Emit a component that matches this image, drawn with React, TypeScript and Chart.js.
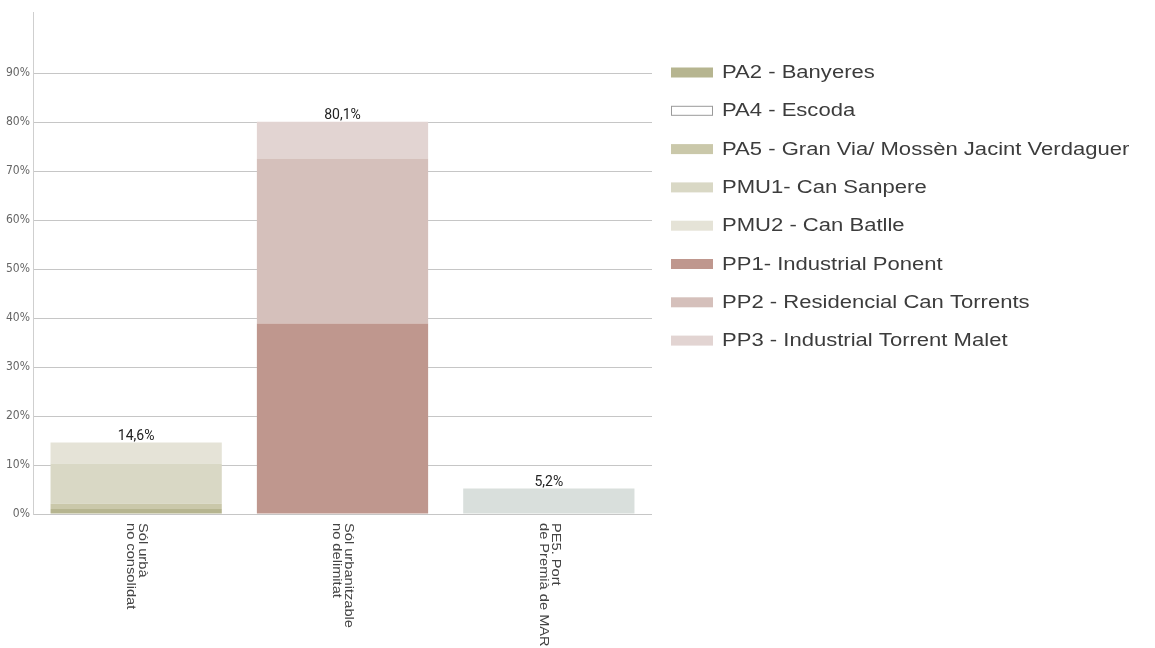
import React, { useEffect, useRef } from 'react';
import { Chart, registerables } from 'chart.js';

Chart.register(...registerables);

// ---- data ----
const categories: string[][] = [
  ['Sól urbà', 'no consolidat'],
  ['Sól urbanitzable', 'no delimitat'],
  ['PE5. Port', 'de Premià de MAR'],
];

const pa2Values = [1.0, 0, 0];
const pa4Values = [0, 0, 0];
const pa5Values = [1.1, 0, 0];
const pmu1Values = [8.2, 0, 0];
const pmu2Values = [4.3, 0, 0];
const pp1Values = [0, 38.9, 0];
const pp2Values = [0, 33.7, 0];
const pp3Values = [0, 7.5, 0];
const pe5Values = [0, 0, 5.2];

const seriesLabels = [
  'PA2 - Banyeres',
  'PA4 - Escoda',
  'PA5 - Gran Via/ Mossèn Jacint Verdaguer',
  'PMU1- Can Sanpere',
  'PMU2 - Can Batlle',
  'PP1- Industrial Ponent',
  'PP2 - Residencial Can Torrents',
  'PP3 - Industrial Torrent Malet',
  'PE5. Port de Premià de MAR',
];

const seriesColors = [
  '#b6b590',
  '#ffffff',
  '#cac8aa',
  '#d9d8c5',
  '#e5e3d7',
  '#bf978e',
  '#d5c0bb',
  '#e2d4d2',
  '#d9dfdc',
];

const yTickValues = [0, 10, 20, 30, 40, 50, 60, 70, 80, 90];
const yMax = 102.5;

const seriesValues = [
  pa2Values, pa4Values, pa5Values, pmu1Values, pmu2Values,
  pp1Values, pp2Values, pp3Values, pe5Values,
];
const inLegend = [true, true, true, true, true, true, true, true, false];

const fmtPct = (v: number) => v.toFixed(1).replace('.', ',') + '%';

const totalsPlugin = {
  id: 'totals',
  afterDatasetsDraw(chart: any) {
    const ctx = chart.ctx;
    const xs = chart.scales.x;
    const ys = chart.scales.y;
    ctx.save();
    ctx.font = '14px Roboto, "Liberation Sans", sans-serif';
    ctx.fillStyle = '#222222';
    ctx.textAlign = 'center';
    ctx.textBaseline = 'alphabetic';
    chart.data.labels.forEach((_: any, i: number) => {
      let total = 0;
      chart.data.datasets.forEach((ds: any) => { total += ds.data[i] || 0; });
      const x = xs.getPixelForValue(i);
      const y = ys.getPixelForValue(total);
      ctx.fillText(fmtPct(total), x, y - 2.5);
    });
    ctx.restore();
  },
};

const xLabelsPlugin = {
  id: 'xLabelsRotated',
  afterDraw(chart: any) {
    const ctx = chart.ctx;
    const xs = chart.scales.x;
    const top = chart.chartArea.bottom + 9;
    ctx.save();
    ctx.font = '12px "Liberation Sans", Arial, sans-serif';
    ctx.fillStyle = '#444444';
    ctx.textAlign = 'left';
    ctx.textBaseline = 'middle';
    chart.data.labels.forEach((lab: any, i: number) => {
      const lines = Array.isArray(lab) ? lab : [lab];
      const x = xs.getPixelForValue(i);
      lines.forEach((ln: string, j: number) => {
        ctx.save();
        ctx.translate(x, top);
        ctx.rotate(Math.PI / 2);
        ctx.scale(1.22, 1);
        ctx.fillText(ln, 0, (j - (lines.length - 1) / 2) * 12);
        ctx.restore();
      });
    });
    ctx.restore();
  },
};

const sideLegendPlugin = {
  id: 'sideLegend',
  afterDraw(chart: any) {
    const ctx = chart.ctx;
    const area = chart.chartArea;
    const items = chart.data.datasets.filter((d: any) => d.showInLegend);
    const x0 = area.right + 19;
    const y0 = area.top + 60;
    const step = 38.3;
    ctx.save();
    ctx.font = '17.5px "Liberation Sans", Arial, sans-serif';
    ctx.textAlign = 'left';
    ctx.textBaseline = 'alphabetic';
    items.forEach((ds: any, i: number) => {
      const cy = y0 + i * step;
      ctx.fillStyle = ds.backgroundColor;
      ctx.fillRect(x0, cy - 4.5, 42, 10);
      if (ds.legendBorder) {
        ctx.strokeStyle = ds.legendBorder;
        ctx.lineWidth = 1;
        ctx.strokeRect(x0 + 0.5, cy - 4, 41, 9);
      }
      ctx.fillStyle = '#3c3c3c';
      ctx.save();
      ctx.translate(x0 + 51, cy + 6);
      ctx.scale(1.26, 1);
      ctx.fillText(ds.label, 0, 0);
      ctx.restore();
    });
    ctx.restore();
  },
};

export default function App() {
  const canvasRef = useRef<HTMLCanvasElement | null>(null);

  useEffect(() => {
    if (!canvasRef.current) return;
    const datasets = seriesLabels.map((label, k) => ({
      label,
      data: seriesValues[k],
      backgroundColor: seriesColors[k],
      borderWidth: 0,
      showInLegend: inLegend[k],
      legendBorder: seriesColors[k] === '#ffffff' ? '#9a9a9a' : null,
      categoryPercentage: 1,
      barPercentage: 0.83,
    }));

    const chart = new Chart(canvasRef.current, {
      type: 'bar',
      data: { labels: categories as any, datasets: datasets as any },
      options: {
        animation: false,
        responsive: false,
        events: [],
        layout: { padding: { left: 0, top: 12, right: 503, bottom: 134 } },
        plugins: {
          legend: { display: false },
          tooltip: { enabled: false },
        },
        scales: {
          x: {
            stacked: true,
            display: false,
          },
          y: {
            stacked: true,
            min: 0,
            max: yMax,
            afterFit: (s: any) => { s.width = 33; },
            afterBuildTicks: (s: any) => {
              s.ticks = yTickValues.map((v) => ({ value: v }));
            },
            ticks: {
              callback: (v: any) => v + '%',
              padding: 3,
              color: '#666666',
              font: {
                family: "'Liberation Sans Narrow', 'DejaVu Sans Condensed', 'Liberation Sans', sans-serif",
                size: 12,
              },
            },
            grid: { color: '#c6c6c6', lineWidth: 1, drawTicks: false },
            border: { display: true, color: '#cfcfcf', width: 1 },
          },
        },
      },
      plugins: [totalsPlugin, xLabelsPlugin, sideLegendPlugin],
    });
    return () => chart.destroy();
  }, []);

  return (
    <div style={{ position: 'fixed', left: 0, top: 0, width: 1155, height: 648, background: '#ffffff' }}>
      <canvas ref={canvasRef} width={1155} height={648} style={{ display: 'block' }} />
    </div>
  );
}
